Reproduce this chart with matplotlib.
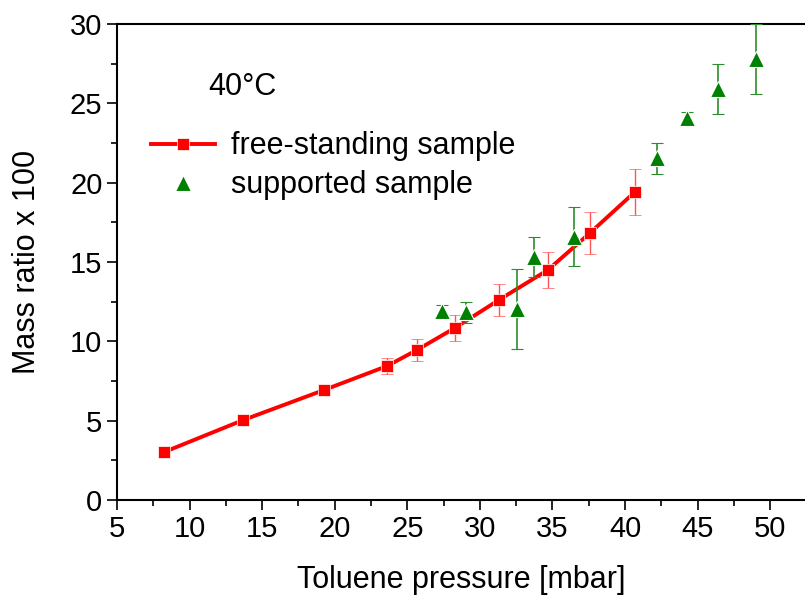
import numpy as np
import matplotlib
matplotlib.use('Agg')
import matplotlib.pyplot as plt
from matplotlib.ticker import MultipleLocator
from matplotlib.lines import Line2D
plt.rcParams['font.family'] = ['Liberation Sans', 'DejaVu Sans']

# free-standing sample
p_free = [8.24, 13.7, 19.26, 23.6, 25.66, 28.28, 31.3, 34.68, 37.58, 40.67]
m_free = [3.02, 5.04, 6.93, 8.44, 9.45, 10.84, 12.6, 14.49, 16.82, 19.4]
e_free = [0.0, 0.0, 0.0, 0.5, 0.68, 0.84, 0.98, 1.15, 1.3, 1.44]

# supported sample
p_sup = [27.4, 29.08, 32.53, 33.74, 36.47, 42.17, 44.24, 46.42, 49.0]
m_sup = [11.9, 11.83, 12.03, 15.33, 16.59, 21.53, 24.05, 25.9, 27.77]
e_sup = [0.4, 0.65, 2.5, 1.26, 1.87, 0.98, 0.37, 1.58, 2.19]

fig = plt.figure(figsize=(8.05, 5.96), dpi=100)
ax = fig.add_axes([0.1453, 0.161, 0.8547, 0.799])

ax.errorbar(p_free, m_free, yerr=e_free, color='red', lw=2.8, marker='s', ms=8,
            mec='white', mew=0.5, elinewidth=1, ecolor='#ff5555', capsize=4, capthick=1,
            zorder=3)
ax.errorbar(p_sup, m_sup, yerr=e_sup, color='green', ls='none', marker='^', ms=11.5,
            mec='white', mew=0.8, elinewidth=1.2, ecolor='#2e8b2e', capsize=4, capthick=1,
            zorder=4)

ax.set_xlim(5, 52.4)
ax.set_ylim(0, 30)
ax.xaxis.set_major_locator(MultipleLocator(5))
ax.xaxis.set_minor_locator(MultipleLocator(2.5))
ax.yaxis.set_major_locator(MultipleLocator(5))
ax.yaxis.set_minor_locator(MultipleLocator(2.5))
ax.tick_params(which='both', direction='out', labelsize=21, width=1.2)
ax.tick_params(which='major', length=7)
ax.tick_params(which='minor', length=4)
ax.spines['right'].set_visible(False)
for s in ['left', 'bottom', 'top']:
    ax.spines[s].set_linewidth(1.5)

ax.set_xlabel('Toluene pressure [mbar]', fontsize=22, labelpad=16)
ax.set_ylabel('Mass ratio x 100', fontsize=22, labelpad=20)
ax.text(0.133, 0.85, '40°C', transform=ax.transAxes, fontsize=22)

handles = [Line2D([], [], color='red', lw=2.8, marker='s', ms=8, mec='white', mew=0.5),
           Line2D([], [], color='green', ls='none', marker='^', ms=11.5, mec='white', mew=0.8)]
ax.legend(handles, ['free-standing sample', 'supported sample'],
          loc='upper left', bbox_to_anchor=(0.032, 0.80), frameon=False, fontsize=22,
          handlelength=2.1, handletextpad=0.5, labelspacing=0.3, borderaxespad=0)

fig.savefig('out.png', dpi=100)
